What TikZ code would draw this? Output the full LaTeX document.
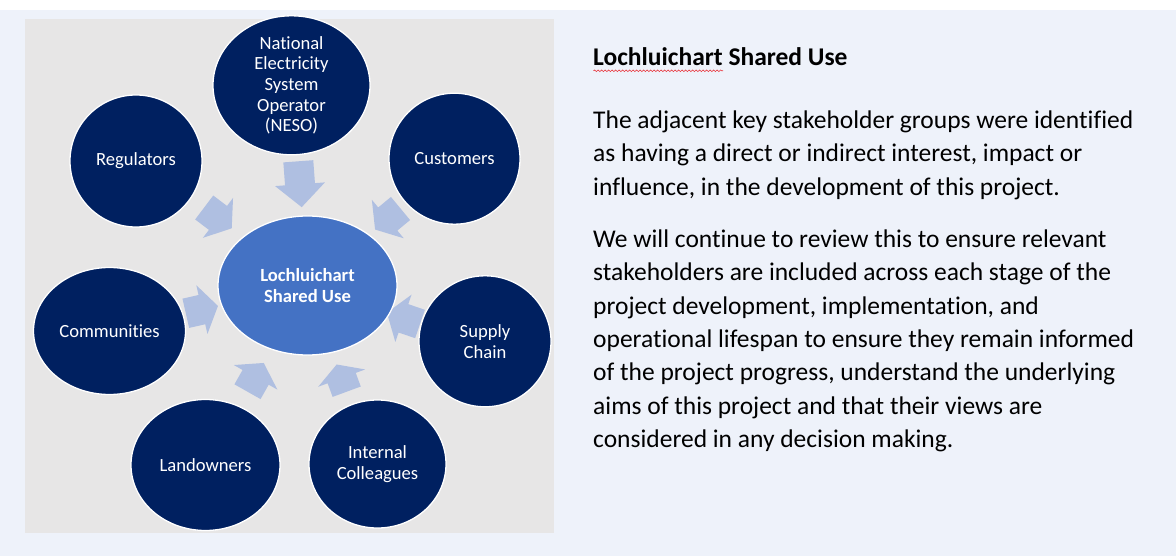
\documentclass[tikz,border=0pt]{standalone}
\usepackage{fontspec}
\setmainfont{Carlito}[Ligatures={NoCommon,NoContextual}]
\usetikzlibrary{calc,shapes.geometric,decorations.pathmorphing}

\definecolor{pagebg}{HTML}{EEF2FA}
\definecolor{panelgray}{HTML}{E7E6E6}
\definecolor{navy}{HTML}{002060}
\definecolor{hubblue}{HTML}{4472C4}
\definecolor{arrowblue}{HTML}{AFBFE1}
\definecolor{squiggle}{HTML}{E8333A}

% block arrow from a tail point towards the hub: #1 name, #2 tail, #3 length
\newcommand{\stakearrow}[3]{%
  \coordinate (#1t) at #2;
  \coordinate (#1p) at ($(#1t)!#3pt!(hubc)$);
  \coordinate (#1h) at ($(#1t)!0.5!(#1p)$);
  \fill[arrowblue]
    ($(#1t)!15pt!90:(#1p)$) -- ($(#1h)!15pt!90:(#1p)$) --
    ($(#1h)!25pt!90:(#1p)$) -- (#1p) --
    ($(#1h)!25pt!-90:(#1p)$) -- ($(#1h)!15pt!-90:(#1p)$) --
    ($(#1t)!15pt!-90:(#1p)$) -- cycle;
}

\begin{document}
\begin{tikzpicture}[x=1pt,y=-1pt,
  stake/.style={ellipse, draw=white, line width=1.3pt, fill=navy,
    text=white, inner sep=0pt, align=center,
    font=\fontsize{18.6}{20.7}\selectfont},
  hubnode/.style={stake, fill=hubblue, font=\bfseries\fontsize{18.6}{21}\selectfont},
  bodyline/.style={anchor=base west, inner sep=0pt, text=black,
    font=\fontsize{25.5}{33.3}\selectfont}]
\useasboundingbox (0,0) rectangle (1176,556);

% page and diagram panel
\fill[white] (0,0) rectangle (1176,556);
\fill[pagebg] (0,10) rectangle (1176,556);
\fill[panelgray] (25,19) rectangle (554,533);

% converging arrows
\coordinate (hubc) at (307.5,285.5);
\stakearrow{aneso}{(298.3,161.3)}{46}
\stakearrow{areg}{(204.2,207.5)}{34.5}
\stakearrow{acust}{(400.5,208.5)}{33}
\stakearrow{acomm}{(185.8,313.3)}{33}
\stakearrow{asupp}{(420,324)}{35}
\stakearrow{aland}{(247.5,391.7)}{33}
\stakearrow{aint}{(346.7,391.7)}{29}

% stakeholder groups
\node[stake, minimum width=157pt, minimum height=131pt] (neso) at (291.5,85.3)
  {National\\Electricity\\System\\Operator\\(NESO)};
\node[stake, minimum width=132pt, minimum height=132pt] (reg) at (136,161) {Regulators};
\node[stake, minimum width=131pt, minimum height=131pt] (cust) at (454.5,158.7) {Customers};
\node[stake, minimum width=152pt, minimum height=127pt] (comm) at (109.5,331) {Communities};
\node[stake, minimum width=132pt, minimum height=131pt] (supp) at (485,341.3) {Supply\\Chain};
\node[stake, minimum width=149pt, minimum height=131pt] (land) at (205.5,465) {Landowners};
\node[stake, minimum width=137pt, minimum height=128pt] (intc) at (377.5,464) {Internal\\Colleagues};
\node[hubnode, minimum width=179pt, minimum height=139pt] (hub) at (hubc)
  {Lochluichart\\Shared Use};

% description text
\node[bodyline, font=\bfseries\fontsize{25.5}{33.3}\selectfont] (title) at (593,65.5) {Lochluichart Shared Use};
\draw[squiggle, line width=0.6pt, decorate,
  decoration={snake, amplitude=0.8pt, segment length=3.5pt}]
  (593.5,70.8) -- (723,70.8);

\node[bodyline] (p1a) at (593,128.5) {The adjacent key stakeholder groups were identified};
\node[bodyline] (p1b) at (593,161.8) {as having a direct or indirect interest, impact or};
\node[bodyline] (p1c) at (593,195.1) {influence, in the development of this project.};

\node[bodyline] (p2a) at (593,247.5) {We will continue to review this to ensure relevant};
\node[bodyline] (p2b) at (593,280.8) {stakeholders are included across each stage of the};
\node[bodyline] (p2c) at (593,314.1) {project development, implementation, and};
\node[bodyline] (p2d) at (593,347.4) {operational lifespan to ensure they remain informed};
\node[bodyline] (p2e) at (593,380.7) {of the project progress, understand the underlying};
\node[bodyline] (p2f) at (593,414.0) {aims of this project and that their views are};
\node[bodyline] (p2g) at (593,447.3) {considered in any decision making.};
\end{tikzpicture}
\end{document}
